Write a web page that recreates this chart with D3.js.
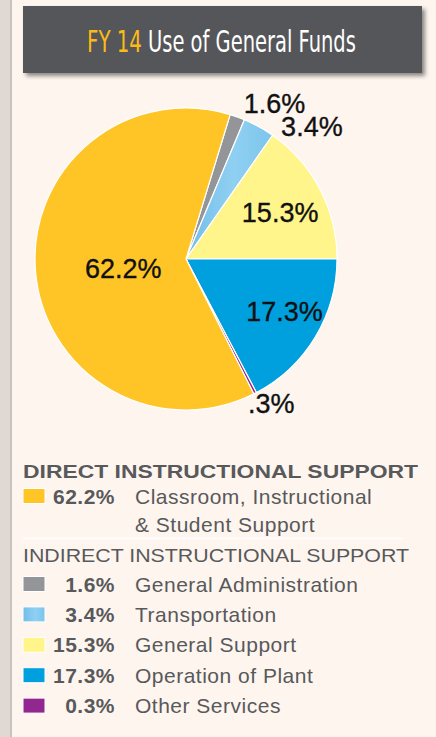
<!DOCTYPE html>
<html>
<head>
<meta charset="utf-8">
<script src="https://cdn.jsdelivr.net/npm/d3@7"></script>
<style>
  html, body { margin: 0; padding: 0; background: #fef5ef; }
  svg { display: block; }
</style>
</head>
<body>
<svg id="chart" width="436" height="737"></svg>
<script>
// data, clockwise from the gray slice
const categories = ['General Administration', 'Transportation', 'General Support',
    'Operation of Plant', 'Other Services', 'Classroom, Instructional & Student Support'];
const values = [1.6, 3.4, 15.3, 17.3, 0.3, 62.2];
const groups = ['indirect', 'indirect', 'indirect', 'indirect', 'indirect', 'direct'];
const colors = ['#939598', 'url(#lightBlue)', '#fff58a', '#00a0de', '#92278f', '#ffc526'];
const legendOrder = [5, 0, 1, 2, 3, 4];
const groupTitles = ['DIRECT INSTRUCTIONAL SUPPORT', 'INDIRECT INSTRUCTIONAL SUPPORT'];
const titleParts = ['FY 14', 'Use of General Funds'];

// label placement (radius from centre, nudge)
const labelPlace = [
    { r: 166, dx: 32, dy: 0 },
    { r: 151, dx: 53, dy: 0 },
    { r: 105, dx: 1, dy: 2 },
    { r: 108, dx: 6, dy: -4 },
    { r: 162, dx: 11, dy: 0 },
    { r: 63, dx: 0, dy: 4 }
];

const svg = d3.select('#chart');
const W = 436, H = 737;
const textGray = '#58595b';

const defs = svg.append('defs');
const lb = defs.append('linearGradient').attr('id', 'lightBlue')
    .attr('x1', '0%').attr('x2', '100%').attr('y1', '0%').attr('y2', '0%');
lb.append('stop').attr('offset', '0%').attr('stop-color', '#72bde8');
lb.append('stop').attr('offset', '55%').attr('stop-color', '#8fd0f2');
lb.append('stop').attr('offset', '100%').attr('stop-color', '#7cc5ec');

const shadow = defs.append('filter').attr('id', 'shadow')
    .attr('x', '-5%').attr('y', '-20%').attr('width', '115%').attr('height', '150%');
shadow.append('feDropShadow').attr('dx', 3).attr('dy', 3).attr('stdDeviation', 2)
    .attr('flood-color', '#000').attr('flood-opacity', 0.45);

// page background and left strip
svg.append('rect').attr('width', W).attr('height', H).attr('fill', '#fef5ef');
svg.append('rect').attr('width', 10).attr('height', H).attr('fill', '#dfd8d3');
svg.append('rect').attr('x', 10).attr('width', 2).attr('height', H).attr('fill', '#c9c1bc');

// title box
svg.append('rect').attr('x', 23).attr('y', 6).attr('width', 399).attr('height', 67)
    .attr('fill', '#55565a').attr('filter', 'url(#shadow)');
const titleFont = '"Liberation Sans Narrow", "DejaVu Sans Condensed", "Liberation Sans", sans-serif';

// squeeze each title part horizontally to the condensed width in the picture
function squeezedText(str, x, width, fill) {
    const t = svg.append('text')
        .style('font-family', titleFont).style('font-size', '31px')
        .attr('fill', fill)
        .text(str);
    const len = t.node().getComputedTextLength();
    t.attr('transform', `translate(${x},52) scale(${width / len},1)`);
    return t;
}
squeezedText(titleParts[0], 87, 55, '#fbbb17');
squeezedText(titleParts[1], 148, 208, '#ffffff');

// pie
const cx = 186, cy = 259, radius = 151;
const total = d3.sum(values);
// blue slice (Operation of Plant) starts at 3 o'clock
const before = d3.sum(values.slice(0, 3));
const start = Math.PI / 2 - before / total * 2 * Math.PI;

const pie = d3.pie().sort(null).value(d => d)
    .startAngle(start).endAngle(start + 2 * Math.PI);
const arcs = pie(values);
const arc = d3.arc().innerRadius(0).outerRadius(radius);

const g = svg.append('g').attr('transform', `translate(${cx},${cy})`);
g.selectAll('path.slice')
    .data(arcs)
    .enter()
    .append('path')
    .attr('class', 'slice')
    .attr('d', arc)
    .attr('fill', (d, i) => colors[i])
    .attr('stroke', '#ffffff')
    .attr('stroke-width', 1.2)
    .attr('stroke-linejoin', 'round');

const pieFmt = v => (v + '%').replace(/^0\./, '.');
g.selectAll('text.pct')
    .data(arcs)
    .enter()
    .append('text')
    .attr('class', 'pct')
    .attr('transform', (d, i) => {
        const p = d3.arc().innerRadius(labelPlace[i].r).outerRadius(labelPlace[i].r).centroid(d);
        return `translate(${p[0] + labelPlace[i].dx},${p[1] + labelPlace[i].dy})`;
    })
    .attr('text-anchor', 'middle')
    .attr('dy', '0.36em')
    .style('font-family', '"Liberation Sans", Arial, sans-serif')
    .style('font-size', '27px')
    .attr('fill', '#111111')
    .attr('stroke', '#111111')
    .attr('stroke-width', 0.35)
    .text(d => pieFmt(d.data));

// legend
const legend = svg.append('g').style('font-family', '"Liberation Sans", Arial, sans-serif');
const legendFmt = d3.format('.1f');

legend.append('text')
    .attr('x', 23).attr('y', 478)
    .attr('textLength', 395).attr('lengthAdjust', 'spacingAndGlyphs')
    .style('font-size', '19px').style('font-weight', 'bold')
    .attr('fill', textGray)
    .text(groupTitles[0]);

legend.append('line')
    .attr('x1', 23).attr('x2', 403).attr('y1', 538.5).attr('y2', 538.5)
    .attr('stroke', '#ffffff').attr('stroke-width', 1.5);

legend.append('text')
    .attr('x', 23).attr('y', 562)
    .attr('textLength', 386).attr('lengthAdjust', 'spacingAndGlyphs')
    .style('font-size', '19px')
    .attr('fill', textGray)
    .text(groupTitles[1]);

const directRows = legendOrder.filter(i => groups[i] === 'direct');
const indirectRows = legendOrder.filter(i => groups[i] === 'indirect');
const rowY = new Map();
directRows.forEach((idx, k) => rowY.set(idx, 496 + k * 30.5));
indirectRows.forEach((idx, k) => rowY.set(idx, 584 + k * 30.4));

const rows = legend.selectAll('g.row')
    .data(legendOrder)
    .enter()
    .append('g')
    .attr('class', 'row')
    .attr('transform', i => `translate(0,${rowY.get(i)})`);

rows.append('rect')
    .attr('x', 23).attr('y', -7.5).attr('width', 22).attr('height', 15)
    .attr('fill', i => colors[i])
    .attr('stroke', '#ffffff').attr('stroke-width', 1);

rows.append('text')
    .attr('x', 115).attr('dy', '0.36em')
    .attr('text-anchor', 'end')
    .style('font-size', '21px').style('font-weight', 'bold')
    .style('letter-spacing', '0.5px')
    .attr('fill', textGray)
    .text(i => legendFmt(values[i]) + '%');

rows.append('text')
    .attr('x', 135).attr('dy', '0.36em')
    .style('font-size', '21px')
    .style('letter-spacing', '0.5px')
    .attr('fill', textGray)
    .each(function (i) {
        const name = categories[i];
        const t = d3.select(this);
        if (name.includes(' & ')) {
            const parts = name.split(' & ');
            t.append('tspan').attr('x', 135).text(parts[0]);
            t.append('tspan').attr('x', 135).attr('dy', '1.36em').text('& ' + parts[1]);
        } else {
            t.text(name);
        }
    });
</script>
</body>
</html>
